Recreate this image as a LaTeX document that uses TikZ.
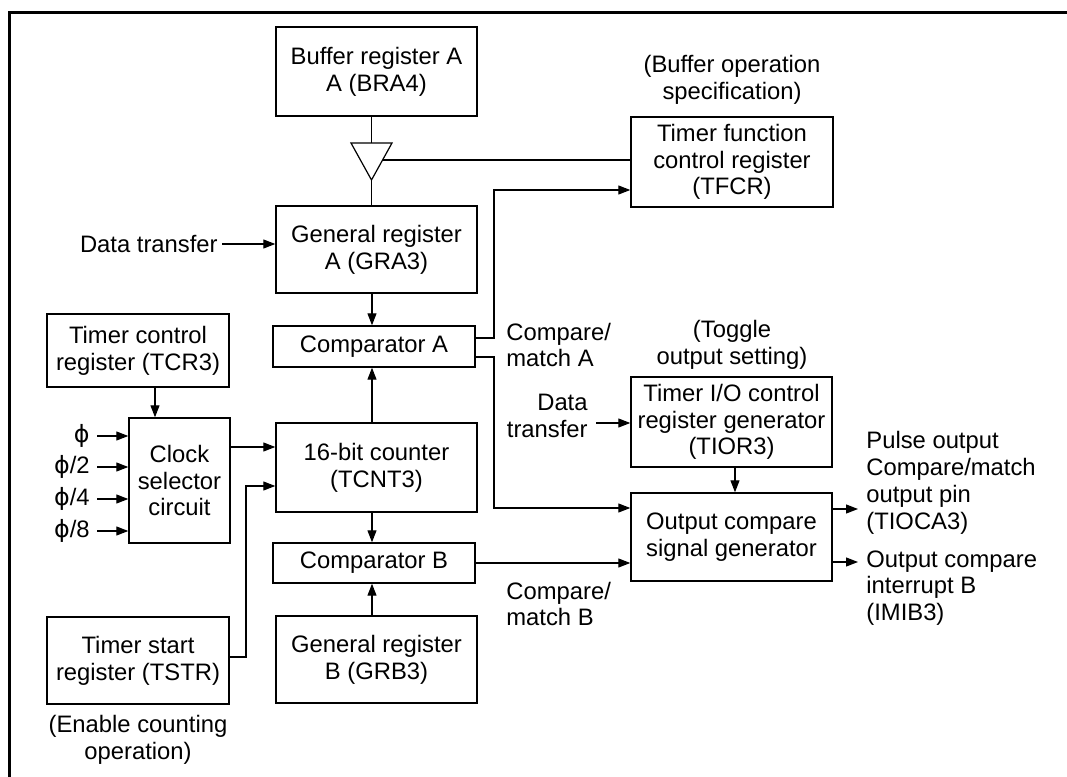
\documentclass[tikz,border=0pt]{standalone}
\usepackage{fontspec}
\setmainfont{Liberation Sans}
\newfontfamily\phifont{DejaVu Sans}
\usetikzlibrary{arrows.meta,calc}
\newcommand\bx[6]{\node[box, minimum width={(#4-#2)*0.5pt}, minimum height={(#5-#3)*0.5pt}] (#1) at ({(#2+#4)/2},{(#3+#5)/2}) {#6};}
\begin{document}
\begin{tikzpicture}[x=0.5pt,y=-0.5pt,
  font=\fontsize{11.9}{13.4}\selectfont,
  box/.style={draw, line width=0.7pt, inner sep=0pt, align=center},
  lbl/.style={inner sep=0pt, align=center},
  arr/.style={-{Triangle[length=6pt,width=4.5pt]}, line width=0.6pt},
  ln/.style={line width=0.6pt}]
\useasboundingbox (0,0) rectangle (1067,777);
% frame
\draw[line width=1.5pt] (9,777) -- (9,12) -- (1067,12);
% boxes
\bx{bra}{276}{27}{477}{116}{Buffer register A\\A (BRA4)}
\bx{gra}{276}{206}{477}{293}{General register\\A (GRA3)}
\bx{tfcr}{631}{117}{833}{207}{Timer function\\control register\\(TFCR)}
\bx{cmpa}{273}{326}{475}{367}{Comparator A}
\bx{tcr}{47}{314}{229}{387}{Timer control\\register (TCR3)}
\bx{clk}{129}{418}{230}{543}{Clock\\selector\\circuit}
\bx{tcnt}{276}{423}{477}{512}{16-bit counter\\(TCNT3)}
\bx{cmpb}{273}{543}{475}{583}{Comparator B}
\bx{grb}{276}{616}{477}{703}{General register\\B (GRB3)}
\bx{tstr}{47}{617}{229}{704}{Timer start\\register (TSTR)}
\bx{tior}{631}{377}{832}{467}{Timer I/O control\\register generator\\(TIOR3)}
\bx{ocsg}{631}{493}{832}{581}{Output compare\\signal generator}
% buffer triangle
\coordinate (bufin) at (371.5,143);
\coordinate (bufout) at (371.5,180);
\coordinate (bufctl) at (383,160);
\coordinate (colx) at (372,0);
\draw[ln] (351,143) -- (392,143) -- (bufout) -- cycle;
\draw[ln] (bra.south -| bufin) -- (bufin);
\draw[ln] (bufout) -- (gra.north -| bufout);
\draw[ln] (bufctl) -- (tfcr.west |- bufctl);
% labels
\node[lbl] (bufspec) at (732,80) {(Buffer operation\\specification)};
\node[lbl, anchor=east] (dtl) at (218,244) {Data transfer};
\node[lbl, anchor=west, align=left] (cma) at (506,345) {Compare/\\match A};
\node[lbl] (tog) at (732,345) {(Toggle\\output setting)};
\node[lbl, anchor=east, align=right] (dtr) at (588,416) {Data\\transfer};
\node[lbl, anchor=west, align=left] (cmb) at (506,604) {Compare/\\match B};
\node[lbl, anchor=west, align=left] (pout) at (866,483) {Pulse output\\Compare/match\\output pin\\(TIOCA3)};
\node[lbl, anchor=west, align=left] (iout) at (866,588) {Output compare\\interrupt B\\(IMIB3)};
\node[lbl] (ena) at (138,740) {(Enable counting\\operation)};
\node[anchor=east, inner sep=3.5pt] (p1) at (97,436) {{\phifont ϕ}};
\node[anchor=east, inner sep=3.5pt] (p2) at (97,467) {{\phifont ϕ}/2};
\node[anchor=east, inner sep=3.5pt] (p3) at (97,499) {{\phifont ϕ}/4};
\node[anchor=east, inner sep=3.5pt] (p4) at (97,531) {{\phifont ϕ}/8};
% connectors
\draw[arr] ([xshift=2pt]dtl.east) -- (gra.west |- dtl.east);
\draw[arr] (gra.south -| colx) -- (cmpa.north -| colx);
\draw[arr] (cmpa.east |- 0,338) -| (494,190) -- (tfcr.west |- 0,190);
\draw[arr] (cmpa.east |- 0,357) -| (494,508) -- (ocsg.west |- 0,508);
\draw[arr] (tcr.south -| 155,0) -- (clk.north -| 155,0);
\foreach \p in {p1,p2,p3,p4} \draw[arr] (\p.east) -- (clk.west |- \p.east);
\draw[arr] (clk.east |- 0,447) -- (tcnt.west |- 0,447);
\draw[arr] (tstr.east |- 0,657) -| (246,486) -- (tcnt.west |- 0,486);
\draw[arr] (tcnt.north -| colx) -- (cmpa.south -| colx);
\draw[arr] (tcnt.south -| colx) -- (cmpb.north -| colx);
\draw[arr] (grb.north -| colx) -- (cmpb.south -| colx);
\draw[arr] (cmpb.east |- 0,563) -- (ocsg.west |- 0,563);
\draw[arr] ([xshift=4pt]dtr.east |- 0,423) -- (tior.west |- 0,423);
\draw[arr] (tior.south -| 735,0) -- (ocsg.north -| 735,0);
\coordinate (o1) at (858,509);
\coordinate (o2) at (858,562);
\draw[arr] (ocsg.east |- o1) -- (o1);
\draw[arr] (ocsg.east |- o2) -- (o2);
\end{tikzpicture}
\end{document}
